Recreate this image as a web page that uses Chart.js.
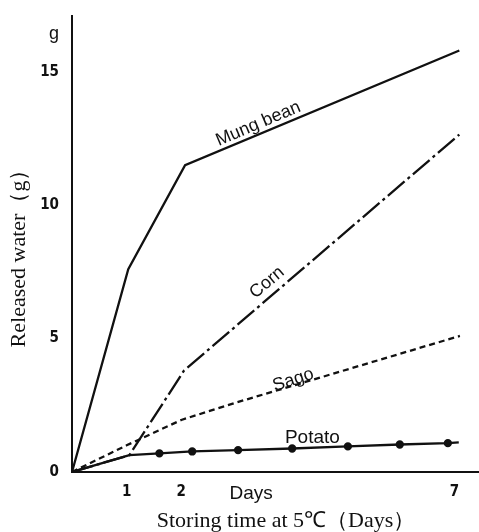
<!DOCTYPE html>
<html>
<head>
<meta charset="utf-8">
<script src="https://cdn.jsdelivr.net/npm/chart.js@4/dist/chart.umd.min.js"></script>
<style>
html, body { margin: 0; padding: 0; background: #fff; }
#wrap { width: 479px; height: 532px; }
</style>
</head>
<body>
<div id="wrap"><canvas id="chart"></canvas></div>
<script>
// values (days, grams)
const mungDays = [0, 1.03, 2.07, 7.09];
const mungWater = [0, 7.6, 11.5, 15.8];
const cornDays = [0, 1.05, 2.05, 7.09];
const cornWater = [0, 0.63, 3.8, 12.65];
const sagoDays = [0, 1, 2, 3, 7.1];
const sagoWater = [0, 1.0, 1.95, 2.6, 5.1];
const potatoDays = [0, 1.05, 1.6, 2.2, 3.04, 4.03, 5.05, 6.0, 6.88, 7.08];
const potatoWater = [0, 0.63, 0.7, 0.77, 0.82, 0.88, 0.96, 1.03, 1.08, 1.11];
const potatoMarked = [false, false, true, true, true, true, true, true, true, false];
const xTicks = [1, 2, 7];
const yTicks = [0, 5, 10, 15];
const yUnitAt = 16.4;

const ink = '#111';
const toPoints = (xs, ys) => xs.map((d, i) => ({ x: d, y: ys[i] }));

const serieLine = (label, xs, ys, dash) => ({
    label: label,
    data: toPoints(xs, ys),
    borderColor: ink,
    backgroundColor: ink,
    borderWidth: 2.3,
    borderDash: dash,
    pointRadius: 0,
    tension: 0,
});

const tickFont = { family: '"Liberation Sans Narrow", "DejaVu Sans Condensed", sans-serif', size: 15, weight: 'bold' };

// curve names, written along the lines, plus the axis texts
const labelPlugin = {
    id: 'curveLabels',
    afterDraw(chart) {
        const { ctx, chartArea } = chart;
        const x = chart.scales.x;
        const y = chart.scales.y;
        ctx.save();
        ctx.fillStyle = ink;
        ctx.textAlign = 'center';
        ctx.textBaseline = 'middle';

        const put = (text, px, py, deg, font) => {
            ctx.save();
            ctx.translate(px, py);
            ctx.rotate(deg * Math.PI / 180);
            ctx.font = font;
            ctx.fillText(text, 0, 0);
            ctx.restore();
        };
        const sans = '18px "Liberation Sans", Arial, sans-serif';
        put('Mung bean', x.getPixelForValue(3.41), y.getPixelForValue(13.05), -23, sans);
        put('Corn', x.getPixelForValue(3.57), y.getPixelForValue(7.1), -40, sans);
        put('Sago', x.getPixelForValue(4.05), y.getPixelForValue(3.45), -18, sans);
        put('Potato', x.getPixelForValue(4.4), y.getPixelForValue(1.3), 0, '19px "Liberation Sans", Arial, sans-serif');

        put('Days', x.getPixelForValue(3.28), chartArea.bottom + 22, 0, '19px "Liberation Sans", Arial, sans-serif');
        const serif = '22px "Liberation Serif", "Times New Roman", serif';
        put('Storing time at 5℃（Days）', 286, chartArea.bottom + 49, 0, serif);
        put('Released water（g）', 19, 253, -90, serif);
        ctx.restore();
    },
};

new Chart(document.getElementById('chart'), {
    type: 'line',
    data: {
        datasets: [
            serieLine('Mung bean', mungDays, mungWater, []),
            serieLine('Corn', cornDays, cornWater, [22, 4, 3, 4]),
            serieLine('Sago', sagoDays, sagoWater, [6, 4]),
            {
                ...serieLine('Potato', potatoDays, potatoWater, []),
                pointRadius: potatoMarked.map((m) => (m ? 3 : 0)),
            },
        ],
    },
    options: {
        responsive: true,
        maintainAspectRatio: false,
        animation: false,
        layout: { padding: { top: 12, right: 0, left: 0, bottom: 0 } },
        plugins: {
            legend: { display: false },
            tooltip: { enabled: false },
        },
        scales: {
            x: {
                type: 'linear',
                min: 0,
                max: 7.45,
                afterBuildTicks: (scale) => {
                    scale.ticks = xTicks.map((v) => ({ value: v }));
                },
                afterFit: (scale) => { scale.height = 60; },
                grid: { display: false },
                border: { color: ink, width: 2 },
                ticks: {
                    color: ink,
                    padding: 3,
                    maxRotation: 0,
                    autoSkip: false,
                    font: tickFont,
                },
            },
            y: {
                type: 'linear',
                min: 0,
                max: 17.1,
                afterBuildTicks: (scale) => {
                    scale.ticks = [...yTicks, yUnitAt].map((v) => ({ value: v }));
                },
                afterFit: (scale) => { scale.width = 72; },
                grid: { display: false },
                border: { color: ink, width: 2 },
                ticks: {
                    color: ink,
                    padding: 5,
                    autoSkip: false,
                    callback: (v) => (v === yUnitAt ? 'g' : String(v)),
                    font: (c) => (c.tick && c.tick.value === yUnitAt
                        ? { family: '"Liberation Sans", Arial, sans-serif', size: 18, weight: 'normal' }
                        : tickFont),
                },
            },
        },
    },
    plugins: [labelPlugin],
});
</script>
</body>
</html>
